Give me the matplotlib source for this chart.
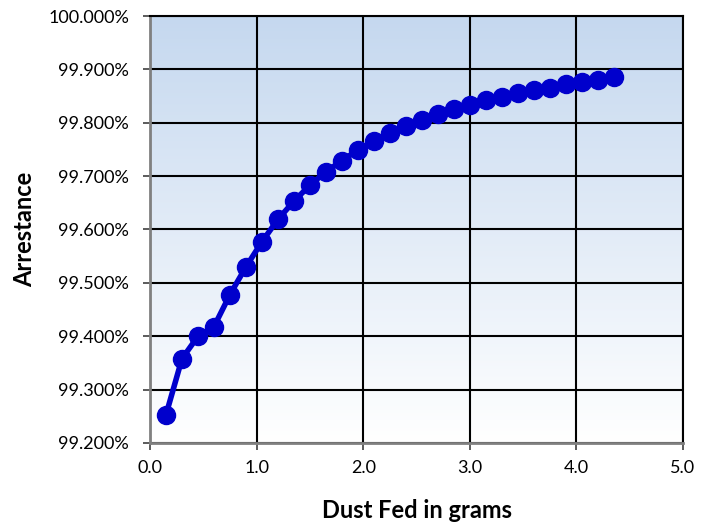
import numpy as np
import matplotlib
matplotlib.use("Agg")
import matplotlib.pyplot as plt
from matplotlib.ticker import FuncFormatter, MultipleLocator
from matplotlib.colors import LinearSegmentedColormap

plt.rcParams['font.family'] = ['Lato', 'DejaVu Sans']

dust_fed = [0.15, 0.30, 0.45, 0.60, 0.75, 0.90, 1.05, 1.20, 1.35, 1.50,
            1.65, 1.80, 1.95, 2.10, 2.25, 2.40, 2.55, 2.70, 2.85, 3.00,
            3.15, 3.30, 3.45, 3.60, 3.75, 3.90, 4.05, 4.20, 4.35]
arrestance = [99.253, 99.358, 99.400, 99.418, 99.478, 99.530, 99.577, 99.619,
              99.653, 99.683, 99.708, 99.729, 99.749, 99.766, 99.781, 99.794,
              99.805, 99.816, 99.826, 99.834, 99.842, 99.849, 99.855, 99.861,
              99.866, 99.872, 99.877, 99.881, 99.885]

fig = plt.figure(figsize=(7.11, 5.23), dpi=100)
ax = fig.add_axes([0.211, 0.153, 0.7496, 0.8164])

# background gradient, light blue on top to white at the bottom
cmap = LinearSegmentedColormap.from_list("bg", ["#ffffff", "#c5d8ef"])
grad = np.linspace(0, 1, 256).reshape(-1, 1)
ax.imshow(grad, aspect="auto", cmap=cmap, origin="lower",
          extent=[0, 1, 0, 1], transform=ax.transAxes, zorder=0)

ax.plot(dust_fed, arrestance, color="#0000cc", linewidth=4,
        marker="o", markersize=13, zorder=3, clip_on=False)

ax.set_xlim(0, 5)
ax.set_ylim(99.2, 100.0)
ax.xaxis.set_major_locator(MultipleLocator(1))
ax.yaxis.set_major_locator(MultipleLocator(0.1))
ax.xaxis.set_major_formatter(FuncFormatter(lambda v, p: f"{v:.1f}"))
ax.yaxis.set_major_formatter(FuncFormatter(lambda v, p: f"{v:.3f}%"))

ax.grid(True, color="black", linewidth=1.5, zorder=1)
ax.set_axisbelow(True)

for side in ["top", "right"]:
    ax.spines[side].set_color("black")
    ax.spines[side].set_linewidth(1.5)
for side in ["left", "bottom"]:
    ax.spines[side].set_color("#808080")
    ax.spines[side].set_linewidth(2)

ax.tick_params(axis="both", direction="out", length=5, width=1.2,
               color="#404040", labelsize=13, labelcolor="black")
ax.tick_params(axis="y", pad=10)
ax.tick_params(axis="x", pad=7)

ax.set_xlabel("Dust Fed in grams", fontsize=17, fontweight="bold", labelpad=17)
ax.set_ylabel("Arrestance", fontsize=17, fontweight="bold", labelpad=9)

fig.savefig("out.png", dpi=100)
